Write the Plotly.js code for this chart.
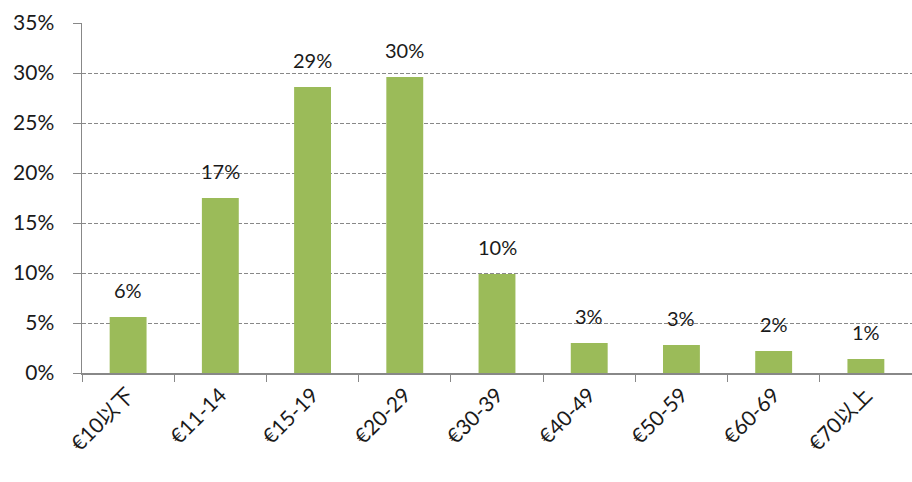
<!DOCTYPE html>
<html>
<head>
<meta charset="utf-8">
<script src="https://cdn.plot.ly/plotly-3.0.1.min.js"></script>
<style>html,body{margin:0;padding:0;background:#fff;}#chart{width:912px;height:482px;}</style>
</head>
<body>
<div id="chart"></div>
<script>
const categories = ["€10以下", "€11-14", "€15-19", "€20-29", "€30-39", "€40-49", "€50-59", "€60-69", "€70以上"];
const values = [5.6, 17.5, 28.6, 29.6, 9.9, 3.0, 2.8, 2.2, 1.4];
const labels = ["6%", "17%", "29%", "30%", "10%", "3%", "3%", "2%", "1%"];
const yTicks = [0, 5, 10, 15, 20, 25, 30, 35];

const fontFam = "Lato, 'Noto Sans CJK JP', sans-serif";

const trace = {
  type: "bar",
  x: categories,
  y: values,
  marker: {color: "#9BBB59"},
  width: 0.4,
  hoverinfo: "skip"
};

const annotations = categories.map((c, i) => ({
  x: c, y: values[i], text: labels[i], showarrow: false,
  yshift: 27, font: {family: fontFam, size: 20, color: "#1a1a1a"}
}));

const layout = {
  width: 912, height: 482,
  margin: {l: 82, r: 0, t: 23, b: 109},
  paper_bgcolor: "#fff", plot_bgcolor: "#fff",
  showlegend: false,
  bargap: 0.6,
  xaxis: {
    type: "category",
    showline: true, linecolor: "#888", linewidth: 1.5,
    ticks: "outside", tickson: "boundaries", ticklen: 7, tickcolor: "#888",
    tickangle: -45,
    tickfont: {family: fontFam, size: 21, color: "#1a1a1a"},
    showgrid: false
  },
  yaxis: {
    range: [0, 35],
    tickvals: yTicks,
    ticktext: yTicks.map(v => v + "%"),
    showline: true, linecolor: "#888", linewidth: 1.5,
    ticks: "outside", ticklen: 8, tickcolor: "#888",
    ticklabelstandoff: 14,
    tickfont: {family: fontFam, size: 21, color: "#1a1a1a"},
    showgrid: true, gridcolor: "#888", griddash: "4px,2px", gridwidth: 1,
    zeroline: false
  },
  annotations: annotations
};

Plotly.newPlot("chart", [trace], layout, {staticPlot: true, displayModeBar: false});
</script>
</body>
</html>
